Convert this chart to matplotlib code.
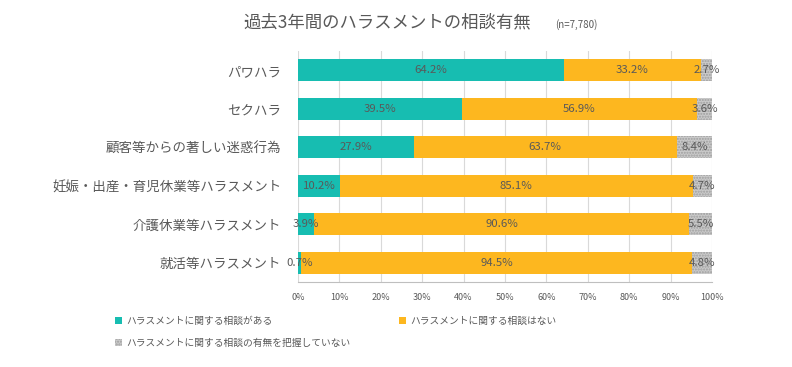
import matplotlib
matplotlib.use("Agg")
import matplotlib.pyplot as plt
import numpy as np

plt.rcParams['font.family'] = ['Noto Sans CJK JP', 'DejaVu Sans']

categories = ["パワハラ", "セクハラ", "顧客等からの著しい迷惑行為",
              "妊娠・出産・育児休業等ハラスメント", "介護休業等ハラスメント", "就活等ハラスメント"]
consulted = [64.2, 39.5, 27.9, 10.2, 3.9, 0.7]
not_consulted = [33.2, 56.9, 63.7, 85.1, 90.6, 94.5]
unknown = [2.7, 3.6, 8.4, 4.7, 5.5, 4.8]
series_names = ["ハラスメントに関する相談がある", "ハラスメントに関する相談はない",
                "ハラスメントに関する相談の有無を把握していない"]
xticks = [0, 10, 20, 30, 40, 50, 60, 70, 80, 90, 100]
xticklabels = [f"{t}%" for t in xticks]

teal = "#17BDB1"
orange = "#FDB71F"
gray = "#CACACA"
txt = "#595959"

fig = plt.figure(figsize=(7.92, 3.67), dpi=100)
ax = fig.add_axes([298/792, 1-282/367, (712-298)/792, (282-51)/367])

y = np.arange(len(categories))
h = 0.57
c = np.array(consulted); n = np.array(not_consulted); u = np.array(unknown)
b1 = ax.barh(y, c, height=h, color=teal, linewidth=0, zorder=3)
b2 = ax.barh(y, n, left=c, height=h, color=orange, linewidth=0, zorder=3)
b3 = ax.barh(y, u, left=c+n, height=h, color=gray, edgecolor="#9E9E9E",
             hatch="......", linewidth=0, zorder=3)

for vals, lefts in [(c, np.zeros_like(c)), (n, c), (u, c+n)]:
    for yi, v, l in zip(y, vals, lefts):
        ax.text(l + v/2, yi, f"{v:.1f}%", ha="center", va="center",
                fontsize=8.2, color=txt, zorder=5)

ax.set_xlim(0, 100)
ax.set_ylim(len(categories)-0.5, -0.5)
ax.set_yticks(y)
ax.set_yticklabels(categories, fontsize=9.7, color=txt)
ax.set_xticks(xticks)
ax.set_xticklabels(xticklabels, fontsize=6.5, color=txt)
ax.tick_params(axis='y', length=0, pad=12)
ax.tick_params(axis='x', length=0, pad=8)
ax.grid(axis='x', color="#D9D9D9", linewidth=0.8, zorder=0)
for s in ["top", "right", "left"]:
    ax.spines[s].set_visible(False)
ax.spines["bottom"].set_color("#BFBFBF")
ax.spines["bottom"].set_linewidth(0.8)

fig.text(243/792, 1-22/367, "過去3年間のハラスメントの相談有無", fontsize=12.5,
         color=txt, ha="left", va="center")
fig.text(555/792, 1-25/367, "(n=7,780)", fontsize=7, color=txt, ha="left", va="center")

handles = [b1, b3, b2]
labels = [series_names[0], series_names[2], series_names[1]]
leg = fig.legend(handles, labels, ncol=2, loc="upper left",
                 bbox_to_anchor=(115/792, 1-316/367), frameon=False,
                 fontsize=7, handlelength=0.75, handleheight=0.75,
                 handletextpad=0.4, columnspacing=5.0, labelspacing=1.25,
                 borderaxespad=0, borderpad=0)
for t in leg.get_texts():
    t.set_color(txt)

fig.savefig("out.png", dpi=100)
